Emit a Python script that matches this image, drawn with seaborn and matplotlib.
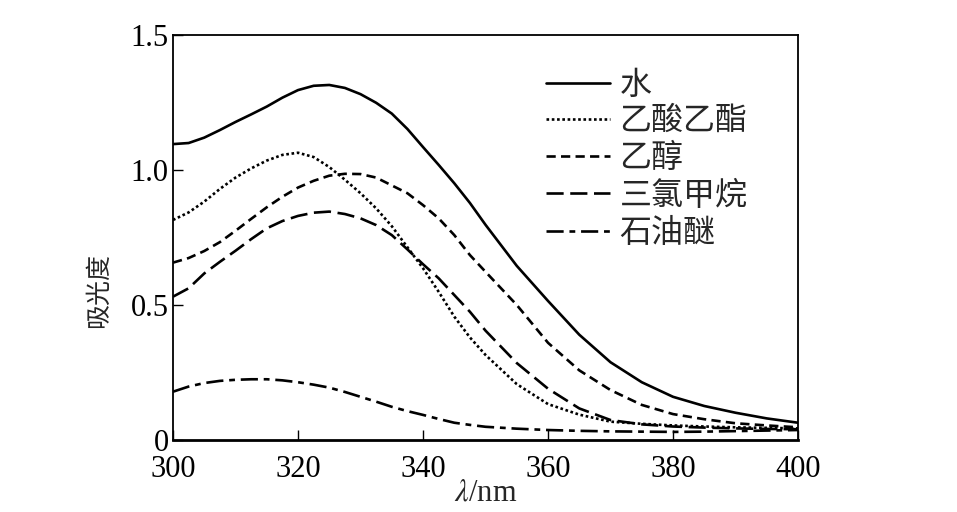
import numpy as np
import pandas as pd
import matplotlib
matplotlib.use('Agg')
import matplotlib.pyplot as plt
import seaborn as sns

# absorbance spectra (2.5 nm steps up to 350 nm, then 5 nm)
wavelength = [300, 302.5, 305, 307.5, 310, 312.5, 315, 317.5, 320, 322.5, 325,
              327.5, 330, 332.5, 335, 337.5, 340, 342.5, 345, 347.5, 350,
              355, 360, 365, 370, 375, 380, 385, 390, 395, 400]

water = [1.096, 1.100, 1.120, 1.148, 1.178, 1.206, 1.235, 1.268, 1.296, 1.312, 1.315,
         1.304, 1.281, 1.249, 1.209, 1.152, 1.085, 1.019, 0.951, 0.878, 0.797,
         0.645, 0.515, 0.390, 0.288, 0.214, 0.160, 0.126, 0.101, 0.080, 0.064]
ethyl_acetate = [0.815, 0.843, 0.883, 0.930, 0.972, 1.006, 1.035, 1.056, 1.064, 1.048, 1.011,
                 0.964, 0.914, 0.858, 0.792, 0.714, 0.636, 0.549, 0.457, 0.380, 0.315,
                 0.207, 0.133, 0.094, 0.068, 0.060, 0.054, 0.050, 0.047, 0.045, 0.043]
ethanol = [0.657, 0.674, 0.700, 0.733, 0.775, 0.819, 0.862, 0.901, 0.935, 0.960, 0.979,
           0.986, 0.985, 0.972, 0.943, 0.914, 0.870, 0.821, 0.759, 0.685, 0.623,
           0.500, 0.360, 0.258, 0.185, 0.130, 0.096, 0.077, 0.062, 0.054, 0.047]
chloroform = [0.531, 0.562, 0.617, 0.660, 0.701, 0.744, 0.784, 0.811, 0.830, 0.842, 0.846,
              0.837, 0.821, 0.796, 0.759, 0.706, 0.651, 0.599, 0.537, 0.475, 0.405,
              0.285, 0.190, 0.117, 0.074, 0.058, 0.050, 0.046, 0.043, 0.041, 0.040]
pet_ether = [0.179, 0.198, 0.211, 0.219, 0.223, 0.225, 0.225, 0.221, 0.214, 0.205, 0.194,
             0.178, 0.160, 0.142, 0.123, 0.107, 0.093, 0.078, 0.064, 0.056, 0.049,
             0.042, 0.037, 0.034, 0.032, 0.031, 0.030, 0.031, 0.033, 0.035, 0.037]

solvents = ['水', '乙酸乙酯', '乙醇', '三氯甲烷', '石油醚']
x_ticks = [300, 320, 340, 360, 380, 400]
y_ticks = [0, 0.5, 1.0, 1.5]
y_tick_labels = ['0', '0.5', '1.0', '1.5']

series = [water, ethyl_acetate, ethanol, chloroform, pet_ether]
df = pd.concat(
    [pd.DataFrame({'wavelength': wavelength, 'absorbance': vals, 'solvent': name})
     for name, vals in zip(solvents, series)],
    ignore_index=True,
)

sns.set_style('white')
plt.rcParams['font.family'] = ['Liberation Serif', 'Noto Sans CJK SC']
plt.rcParams['mathtext.fontset'] = 'stix'

fig = plt.figure(figsize=(9.57, 5.12), dpi=100)
ax = fig.add_axes([0.1808, 0.1406, 0.6531, 0.791])

dash_map = {
    '水': '',
    '乙酸乙酯': (1, 1),
    '乙醇': (3.5, 2),
    '三氯甲烷': (6.5, 2.5),
    '石油醚': (6.5, 2.2, 2.2, 2.2),
}

sns.lineplot(data=df, x='wavelength', y='absorbance', hue='solvent', style='solvent',
             hue_order=solvents, style_order=solvents,
             palette=['black'] * 5, dashes=dash_map, linewidth=1.9, ax=ax)

ax.set_xlim(300, 400)
ax.set_ylim(0, 1.5)
ax.set_xticks(x_ticks)
ax.set_xticklabels([str(t) for t in x_ticks], fontsize=22)
ax.set_yticks(y_ticks)
ax.set_yticklabels(y_tick_labels, fontsize=22)
ax.tick_params(direction='in', length=7, width=1, top=False, right=False,
               bottom=True, left=True, colors='black')
ax.tick_params(axis='x', pad=11)
ax.tick_params(axis='y', pad=3)

ax.set_xlabel(r'$\lambda$/nm', fontsize=22, labelpad=-4)
ax.set_ylabel('吸光度', fontsize=18)
ax.yaxis.set_label_coords(-0.099, 0.37)

for side in ax.spines.values():
    side.set_color('black')
    side.set_linewidth(1.3)
ax.spines['bottom'].set_linewidth(2)

handles, labels = ax.get_legend_handles_labels()
ax.legend(handles, labels, loc='upper right', bbox_to_anchor=(0.919, 0.91),
          frameon=False, fontsize=23, handlelength=2.0, handletextpad=0.3,
          labelspacing=0.22, borderaxespad=0, borderpad=0)

fig.savefig('out.png', dpi=100, facecolor='white')
